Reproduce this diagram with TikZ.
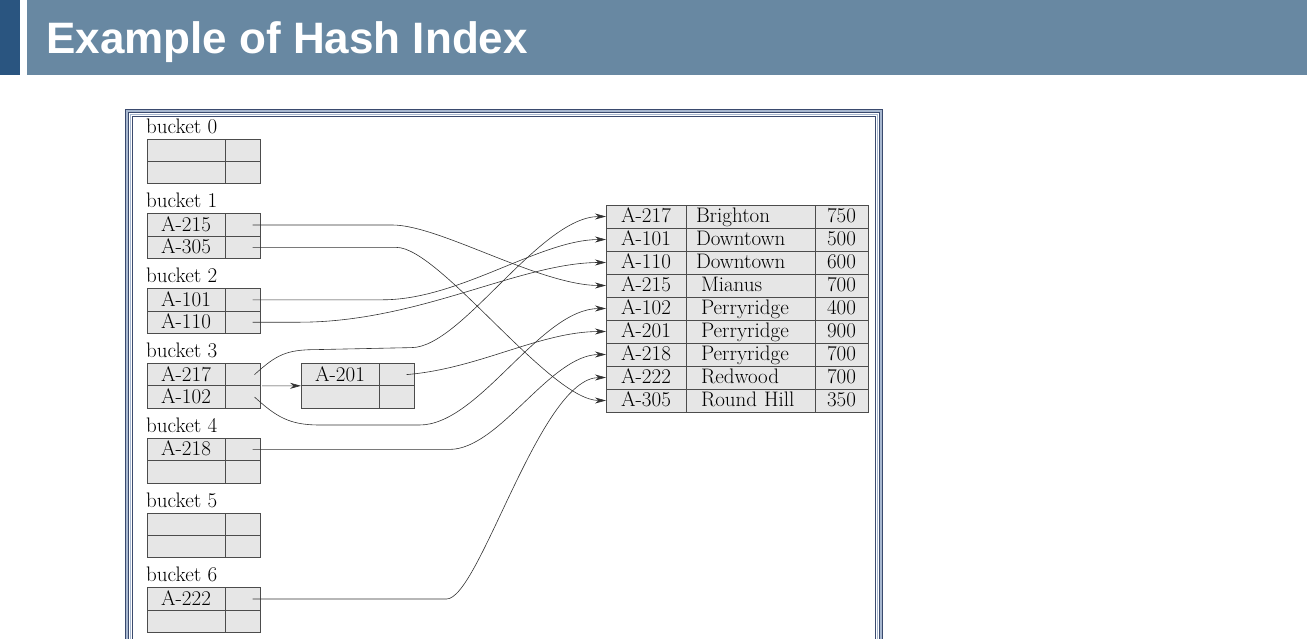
\documentclass[tikz,border=0pt]{standalone}
\usepackage{fontspec}
\newfontfamily\titlefont{Liberation Sans}
\usetikzlibrary{arrows.meta,positioning}

\definecolor{hdrdark}{HTML}{2A5580}
\definecolor{hdrbar}{HTML}{6888A2}
\definecolor{frmdark}{HTML}{3A4A6E}
\definecolor{frmlight}{HTML}{A8B8D0}
\definecolor{cellfill}{HTML}{E6E6E6}

\newcommand\hashfont{\fontsize{21}{23}\selectfont}

\begin{document}
\begin{tikzpicture}[x=1pt,y=-1pt,
  cell/.style={draw=black!70,line width=0.8pt,fill=cellfill,inner sep=0pt,outer sep=0pt,
               minimum height=22.4pt,text height=14.6pt,text depth=1.8pt,font=\hashfont},
  keycell/.style={cell,minimum width=78pt},
  ptrcell/.style={cell,minimum width=35pt},
  tcell/.style={cell,minimum height=23pt},
  lbl/.style={inner sep=0pt,anchor=base west,font=\hashfont},
  link/.style={draw=black!80,line width=0.6pt},
  arr/.style={link,-{Stealth[length=11pt,width=6pt]}}
]
\useasboundingbox (0,0) rectangle (1307,638);
\clip (0,0) rectangle (1307,638);

% title bar
\fill[hdrdark] (0,0) rectangle (20,75);
\fill[hdrbar] (27,0) rectangle (1307,75);
\node[anchor=base west,inner sep=0pt,text=white,
      font=\titlefont\bfseries\fontsize{44}{48}\selectfont] (title) at (46,53) {Example of Hash Index};

% double frame
\draw[frmdark,line width=1.3pt,double=frmlight,double distance=1.6pt] (127,111) rectangle (881,700);
\draw[frmlight,line width=0.8pt] (130.8,114.8) rectangle (877.2,700);
\draw[frmdark,line width=1.2pt] (132.4,116.4) rectangle (875.6,700);

% buckets
\foreach \k/\ka/\kb in {0//,1/A-215/A-305,2/A-101/A-110,3/A-217/A-102,4/A-218/,5//,6/A-222/} {
  \pgfmathsetmacro\bkty{139+74.8*\k}
  \node[lbl] (lab\k) at (146,\bkty-6) {bucket \k};
  \node[keycell,anchor=north west] (k\k-1) at (147,\bkty) {\ka};
  \node[keycell,below=0pt of k\k-1] (k\k-2) {\kb};
  \node[ptrcell,right=0pt of k\k-1] (p\k-1) {};
  \node[ptrcell,right=0pt of k\k-2] (p\k-2) {};
}

% overflow bucket
\node[keycell,anchor=north west] (ov-1) at (301,363.4) {A-201};
\node[keycell,below=0pt of ov-1] (ov-2) {};
\node[ptrcell,right=0pt of ov-1] (ovp-1) {};
\node[ptrcell,right=0pt of ov-2] (ovp-2) {};

% account file
\foreach \i/\acc/\br/\bal/\ind in {1/A-217/Brighton/750/0,2/A-101/Downtown/500/0,
    3/A-110/Downtown/600/0,4/A-215/Mianus/700/5,5/A-102/Perryridge/400/5,
    6/A-201/Perryridge/900/5,7/A-218/Perryridge/700/5,8/A-222/Redwood/700/5,
    9/A-305/Round Hill/350/5} {
  \pgfmathsetmacro\rowy{205+23*(\i-1)}
  \node[tcell,minimum width=80pt,anchor=north west] (tid\i) at (606,\rowy) {\acc};
  \node[tcell,right=0pt of tid\i,text width=109pt,inner xsep=10pt,align=left] (tbr\i) {\hspace*{\ind pt}\br};
  \node[tcell,minimum width=53pt,right=0pt of tbr\i] (tbal\i) {\bal};
}

% pointers
\draw[arr] ([xshift=10pt]p1-1.center) -- ++(140,0) .. controls +(47,0) and +(-66,0) .. (tid4.west);
\draw[arr] ([xshift=10pt]p1-2.center) -- ++(144,0) .. controls +(43,0) and +(-56,0) .. (tid9.west);
\draw[arr] ([xshift=10pt]p2-1.center) -- ++(130,0) .. controls +(77,0) and +(-66,0) .. (tid2.west);
\draw[arr] ([xshift=10pt]p2-2.center) -- ++(47,0) .. controls +(120,0) and +(-86,0) .. (tid3.west);
\draw[arr] ([xshift=12pt]p3-1.center) .. controls +(22,-20) and +(-30,0) .. ++(62,-25)
  -- ++(95,-2) .. controls +(50,0) and +(-66,0) .. (tid1.west);
\draw[arr] ([xshift=12pt]p3-2.center) .. controls +(22,20) and +(-30,0) .. ++(65,28)
  -- ++(100,0) .. controls +(60,0) and +(-66,0) .. (tid5.west);
\draw[arr] ([xshift=2pt]p3-1.south east) -- (ov-1.south west);
\draw[arr] ([xshift=10pt]ovp-1.center) .. controls +(73,-6) and +(-66,0) .. (tid6.west);
\draw[arr] ([xshift=10pt]p4-1.center) -- ++(197,0) .. controls +(50,0) and +(-56,0) .. (tid7.west);
\draw[arr] ([xshift=10pt]p6-1.center) -- ++(194,0) .. controls +(33,0) and +(-66,0) .. (tid8.west);
\end{tikzpicture}
\end{document}
